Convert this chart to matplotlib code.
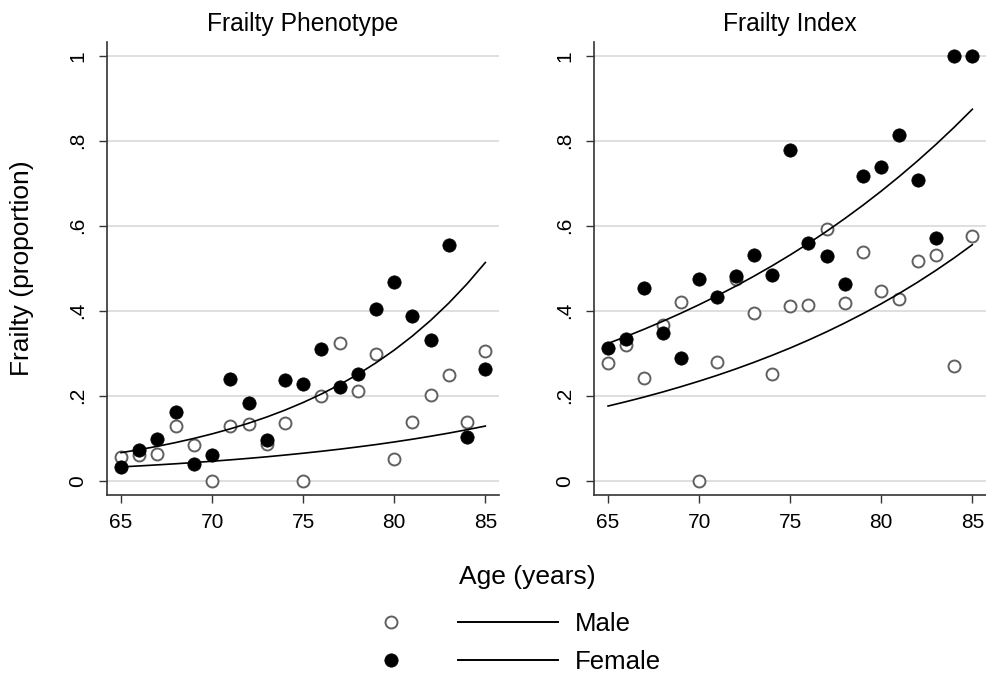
import matplotlib
matplotlib.use("Agg")
import matplotlib.pyplot as plt
from matplotlib.lines import Line2D

plt.rcParams['font.family'] = ['Liberation Sans', 'DejaVu Sans']

ages = list(range(65, 86))

# Frailty Phenotype observed proportions
fp_male = [0.055, 0.061, 0.064, 0.129, 0.084, 0.0, 0.129, 0.133, 0.086, 0.135, 0.0,
           0.200, 0.325, 0.211, 0.298, 0.052, 0.137, 0.202, 0.249, 0.137, 0.305]
fp_female = [0.032, 0.072, 0.098, 0.161, 0.039, 0.061, 0.239, 0.182, 0.096, 0.237, 0.228,
             0.309, 0.221, 0.252, 0.405, 0.467, 0.387, 0.331, 0.555, 0.104, 0.264]
# Frailty Phenotype fitted curves
fp_fit_upper = [0.0660, 0.0731, 0.0810, 0.0898, 0.0995, 0.1102, 0.1221, 0.1353, 0.1499,
                0.1661, 0.1841, 0.2040, 0.2260, 0.2504, 0.2775, 0.3074, 0.3406, 0.3774,
                0.4182, 0.4634, 0.5134]
fp_fit_lower = [0.0325, 0.0348, 0.0373, 0.0399, 0.0428, 0.0458, 0.0491, 0.0526, 0.0563,
                0.0604, 0.0647, 0.0693, 0.0742, 0.0795, 0.0851, 0.0912, 0.0977, 0.1047,
                0.1121, 0.1201, 0.1286]

# Frailty Index observed proportions
fi_male = [0.278, 0.319, 0.241, 0.366, 0.421, 0.0, 0.279, 0.475, 0.395, 0.252, 0.412,
           0.413, 0.592, 0.417, 0.539, 0.446, 0.427, 0.518, 0.531, 0.270, 0.576]
fi_female = [0.312, 0.334, 0.453, 0.347, 0.288, 0.475, 0.432, 0.481, 0.531, 0.485, 0.778,
             0.560, 0.529, 0.462, 0.718, 0.737, 0.813, 0.708, 0.572, 1.0, 1.0]
fi_fit_upper = [0.3230, 0.3395, 0.3568, 0.3750, 0.3941, 0.4142, 0.4354, 0.4576, 0.4810,
                0.5055, 0.5313, 0.5584, 0.5869, 0.6169, 0.6484, 0.6815, 0.7163, 0.7528,
                0.7912, 0.8316, 0.8740]
fi_fit_lower = [0.1757, 0.1861, 0.1971, 0.2088, 0.2212, 0.2343, 0.2481, 0.2628, 0.2784,
                0.2949, 0.3123, 0.3308, 0.3504, 0.3712, 0.3932, 0.4164, 0.4411, 0.4672,
                0.4949, 0.5242, 0.5553]

titles = ["Frailty Phenotype", "Frailty Index"]
xticks = [65, 70, 75, 80, 85]
yticks = [0, 0.2, 0.4, 0.6, 0.8, 1.0]
ytick_labels = ["0", ".2", ".4", ".6", ".8", "1"]
legend_labels = ["Male", "Female"]

W, H = 987, 673
fig = plt.figure(figsize=(W / 100, H / 100), dpi=100)
fig.patch.set_facecolor("white")

def fx(px):
    return px / W

def fy(py):
    return 1 - py / H

ax_w = 392
panels = [
    (107, fp_male, fp_female, fp_fit_upper, fp_fit_lower),
    (594, fi_male, fi_female, fi_fit_upper, fi_fit_lower),
]
top_px, bot_px = 41.7, 495

open_kw = dict(marker='o', linestyle='none', markersize=8.6, markerfacecolor='white',
               markeredgecolor='#606060', markeredgewidth=1.4)
fill_kw = dict(marker='o', linestyle='none', markersize=9.6, markerfacecolor='black',
               markeredgecolor='black', markeredgewidth=0.5)

for i, (left_px, m, f, up, lo) in enumerate(panels):
    ax = fig.add_axes([fx(left_px), fy(bot_px), ax_w / W, (bot_px - top_px) / H])
    ax.set_xlim(64.23, 85.75)
    ax.set_ylim(-0.0336, 1.033)
    for y in yticks:
        ax.axhline(y, color='#dcdcdc', linewidth=1.3, zorder=0)
    ax.plot(ages, m, **open_kw, zorder=3)
    ax.plot(ages, f, **fill_kw, zorder=4)
    ax.plot(ages, up, color='black', linewidth=1.2, zorder=5)
    ax.plot(ages, lo, color='black', linewidth=1.2, zorder=5)
    ax.set_xticks(xticks)
    ax.set_xticklabels([str(t) for t in xticks])
    ax.set_yticks(yticks)
    ax.set_yticklabels(ytick_labels, rotation=90, va='center')
    ax.tick_params(axis='both', direction='out', length=6, width=1.0, color='#333333',
                   labelsize=15, labelcolor='black')
    ax.tick_params(axis='x', pad=7)
    ax.tick_params(axis='y', pad=8)
    for s in ['top', 'right']:
        ax.spines[s].set_visible(False)
    for s in ['left', 'bottom']:
        ax.spines[s].set_color('#333333')
        ax.spines[s].set_linewidth(1.2)
    ax.set_title(titles[i], fontsize=17.7, pad=8)

fig.text(fx(22), fy(268), "Frailty (proportion)", rotation=90, fontsize=19,
         ha='center', va='center')
fig.text(fx(527), fy(577), "Age (years)", fontsize=19, ha='center', va='center')

h_open = Line2D([], [], **open_kw)
h_fill = Line2D([], [], **fill_kw)
h_l1 = Line2D([], [], color='black', linewidth=1.4)
h_l2 = Line2D([], [], color='black', linewidth=1.4)
fs = 18.5
fs_px = fs * 100 / 72
fig.legend(handles=[h_open, h_fill, h_l1, h_l2], labels=["", "", legend_labels[0], legend_labels[1]],
           ncol=2, frameon=False, fontsize=fs, handlelength=100 / fs_px,
           handletextpad=17 / fs_px, columnspacing=0.0, borderpad=0.0,
           labelspacing=0.51, loc='center left',
           bbox_to_anchor=(fx(328), fy(643)))

fig.savefig("out.png", dpi=100)
